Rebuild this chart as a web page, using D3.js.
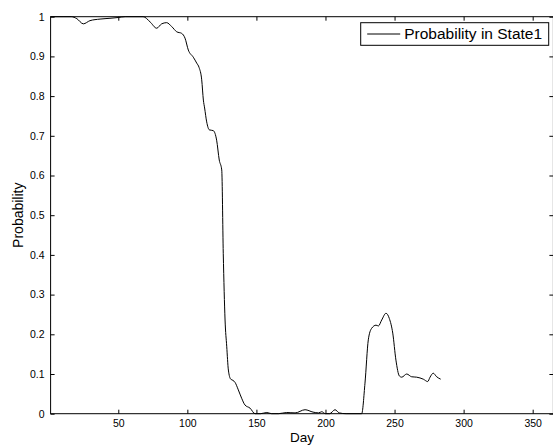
<!DOCTYPE html>
<html>
<head>
<meta charset="utf-8">
<script src="https://cdn.jsdelivr.net/npm/d3@7"></script>
<style>
body { margin: 0; background: #fff; }
text { font-family: "Liberation Sans", Arial, Helvetica, sans-serif; fill: #000; }
</style>
</head>
<body>
<div id="container"></div>
<script>
const width = 553;
const height = 447;

// data
const days = [1, 10, 16, 20, 24.7, 29.5, 36.8, 44, 50, 55, 68, 73, 77.8, 81.4, 85, 88.7, 92.3, 95.9, 98.3,
  100.7, 104.3, 106.8, 108.5, 110.4, 111.6, 112.5, 114, 115.9, 118.8, 121.2, 123.1, 124.9, 126, 127.3,
  128.5, 129.7, 131.4, 133, 134.5, 136.9, 139.3, 141.7, 145.4, 149, 153, 157.5, 161, 166, 171.9, 178,
  185.2, 191, 195, 197.3, 200, 203, 206.9, 210, 215, 226.2, 228.6, 231, 233.4, 236.6, 238.3, 240.7, 243.8,
  246.2, 248.7, 251, 253.5, 255.2, 258.8, 262.4, 266, 270.8, 274, 275.7, 278, 280.5, 283.4];
const prob = [1, 1, 1, 0.995, 0.982, 0.99, 0.994, 0.996, 0.998, 1, 1, 0.987, 0.971, 0.982, 0.985, 0.975, 0.962, 0.958, 0.946,
  0.916, 0.898, 0.883, 0.872, 0.841, 0.79, 0.77, 0.735, 0.715, 0.713, 0.689, 0.639, 0.614, 0.404, 0.236,
  0.17, 0.11, 0.087, 0.084, 0.079, 0.06, 0.039, 0.022, 0.014, 0, 0, 0.003, 0, 0, 0.003, 0.002,
  0.01, 0.004, 0.002, 0.005, 0, 0, 0.01, 0.002, 0, 0, 0.077, 0.186, 0.215, 0.223, 0.221, 0.236, 0.253,
  0.24, 0.203, 0.135, 0.095, 0.092, 0.1, 0.093, 0.092, 0.087, 0.081, 0.092, 0.102, 0.093, 0.087];

const xTicks = [50, 100, 150, 200, 250, 300, 350];
const yTicks = [0, 0.1, 0.2, 0.3, 0.4, 0.5, 0.6, 0.7, 0.8, 0.9, 1];
const seriesName = "Probability in State1";

const pLeft = 50.6, pRight = 553.4, pTop = 16.7, pBottom = 413.7;

const svg = d3.select("div#container").append("svg")
    .attr("width", width)
    .attr("height", height);

const xScale = d3.scaleLinear().domain([1, 365]).range([pLeft, pRight]);
const yScale = d3.scaleLinear().domain([0, 1]).range([pBottom, pTop]);

//-----------------------------AXES-----------------------------//
const fmt = d => d3.format("")(d);

svg.append("g")
    .attr("transform", "translate(0," + pBottom + ")")
    .call(d3.axisBottom(xScale).tickValues(xTicks).tickSizeInner(-4).tickSizeOuter(0).tickPadding(6))
    .call(g => g.select(".domain").remove())
    .call(g => g.selectAll("text").style("font-size", "10.5px"));

svg.append("g")
    .attr("transform", "translate(0," + pTop + ")")
    .call(d3.axisTop(xScale).tickValues(xTicks).tickSizeInner(-4).tickSizeOuter(0).tickFormat(""))
    .call(g => g.select(".domain").remove());

svg.append("g")
    .attr("transform", "translate(" + pLeft + ",0)")
    .call(d3.axisLeft(yScale).tickValues(yTicks).tickFormat(fmt).tickSizeInner(-4).tickSizeOuter(0).tickPadding(6))
    .call(g => g.select(".domain").remove())
    .call(g => g.selectAll("text").style("font-size", "10.5px"));

svg.append("g")
    .attr("transform", "translate(" + pRight + ",0)")
    .call(d3.axisRight(yScale).tickValues(yTicks).tickSizeInner(-4).tickSizeOuter(0).tickFormat(""))
    .call(g => g.select(".domain").remove());

svg.append("rect")
    .attr("x", pLeft).attr("y", pTop)
    .attr("width", pRight - pLeft).attr("height", pBottom - pTop)
    .attr("fill", "none").attr("stroke", "#000").attr("stroke-width", 1);

svg.append("text")
    .attr("x", (pLeft + pRight) / 2).attr("y", 442)
    .attr("text-anchor", "middle")
    .style("font-size", "13.5px")
    .text("Day");

svg.append("text")
    .attr("transform", "translate(23," + ((pTop + pBottom) / 2) + ") rotate(-90)")
    .attr("text-anchor", "middle")
    .style("font-size", "14px")
    .text("Probability");

//----------------------------LINES-----------------------------//
const pts = days.map((d, i) => ({ day: d, p: prob[i] }));
const line = d3.line()
    .x(d => xScale(d.day))
    .y(d => yScale(d.p))
    .curve(d3.curveMonotoneX);

svg.append("path")
    .datum(pts)
    .attr("fill", "none")
    .attr("stroke", "#000")
    .attr("stroke-width", 1)
    .attr("d", line);

//----------------------------LEGEND----------------------------//
const lg = svg.append("g").attr("transform", "translate(360.7,22.7)");
lg.append("rect")
    .attr("width", 188).attr("height", 22.6)
    .attr("fill", "#fff").attr("stroke", "#000");
lg.append("line")
    .attr("x1", 6.5).attr("x2", 39.5).attr("y1", 11.3).attr("y2", 11.3)
    .attr("stroke", "#000");
const lgText = lg.append("text")
    .attr("x", 43.5).attr("y", 16.3)
    .style("font-size", "14px")
    .text(seriesName);
// fit the label to the width it has in the picture
const w = lgText.node().getComputedTextLength();
lgText.style("font-size", (14 * 138 / w).toFixed(2) + "px");
</script>
</body>
</html>
